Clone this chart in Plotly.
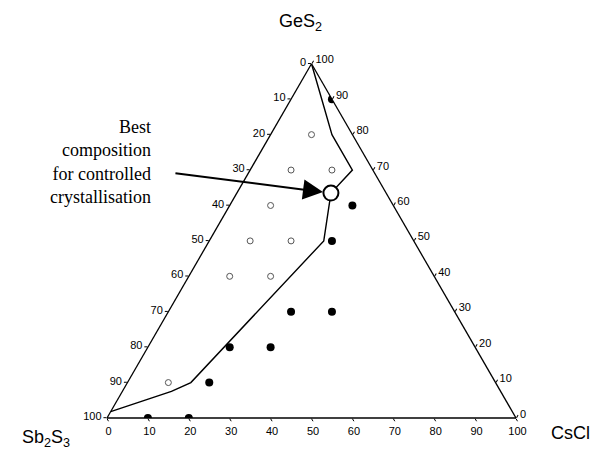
import plotly.graph_objects as go

# Compositions in mol %: GeS2 (top), Sb2S3 (bottom left), CsCl (bottom right)

# Boundary of the glass-forming region
boundary_ges2 = [100, 88, 80, 70, 63.5, 50, 10, 7.5, 1.8]
boundary_sb2s3 = [0, 3, 5, 5, 13.5, 22, 74.5, 80.5, 98.2]
boundary_cscl = [0, 9, 15, 25, 23, 28, 15.5, 12, 0]

# Glassy samples (open symbols)
glass_ges2 = [80, 70, 70, 60, 50, 50, 40, 40, 10]
glass_sb2s3 = [10, 20, 10, 30, 40, 30, 50, 40, 80]
glass_cscl = [10, 10, 20, 10, 10, 20, 10, 20, 10]

# Crystallised samples (filled symbols)
cryst_ges2 = [90, 60, 50, 30, 30, 20, 20, 10, 0, 0]
cryst_sb2s3 = [0, 10, 20, 30, 40, 60, 50, 70, 90, 80]
cryst_cscl = [10, 30, 30, 40, 30, 20, 30, 20, 10, 20]

# Composition chosen for controlled crystallisation
best_ges2 = [63.5]
best_sb2s3 = [13.5]
best_cscl = [23]

tick_vals = [0, 10, 20, 30, 40, 50, 60, 70, 80, 90, 100]
tick_text = [str(100 - v) for v in tick_vals]

W, H = 598, 449
# ternary domain (paper fractions)
DX = [107 / W, 516 / W]
DY = [31 / H, (31 + 409 * 3 ** 0.5 / 2) / H]


def to_paper(a, b, c):
    s = a + b + c
    a, c = a / s, c / s
    return DX[0] + (DX[1] - DX[0]) * (c + a / 2), DY[0] + (DY[1] - DY[0]) * a


fig = go.Figure()
fig.add_trace(go.Scatterternary(
    a=boundary_ges2, b=boundary_sb2s3, c=boundary_cscl, mode="lines",
    line=dict(color="black", width=1.4), hoverinfo="skip"))
fig.add_trace(go.Scatterternary(
    a=glass_ges2, b=glass_sb2s3, c=glass_cscl, mode="markers",
    marker=dict(symbol="circle-open", size=6, color="#555",
                line=dict(width=1, color="#555"))))
fig.add_trace(go.Scatterternary(
    a=cryst_ges2, b=cryst_sb2s3, c=cryst_cscl, mode="markers",
    marker=dict(symbol="circle", size=8, color="black")))
fig.add_trace(go.Scatterternary(
    a=best_ges2, b=best_sb2s3, c=best_cscl, mode="markers",
    marker=dict(symbol="circle", size=15, color="white",
                line=dict(width=2, color="black"))))

axis_common = dict(
    tickmode="array", tickvals=tick_vals, ticktext=tick_text,
    ticks="outside", ticklen=3, tickcolor="black", tickwidth=1,
    showgrid=False, linecolor="black", linewidth=1.3, color="black",
    tickfont=dict(family="Arial, Liberation Sans", size=11, color="black"),
    title=dict(text=""), min=0,
)

fig.update_layout(
    width=W, height=H,
    margin=dict(l=0, r=0, t=0, b=0),
    paper_bgcolor="white",
    showlegend=False,
    ternary=dict(
        sum=100,
        domain=dict(x=DX, y=DY),
        bgcolor="white",
        aaxis=axis_common,
        baxis=axis_common,
        caxis=axis_common,
    ),
)

label_font = dict(family="Arial, Liberation Sans", size=18, color="black")
for txt, px, py in [("GeS<sub>2</sub>", 300, 22),
                    ("Sb<sub>2</sub>S<sub>3</sub>", 46, 438),
                    ("CsCl", 570, 433)]:
    fig.add_annotation(text=txt, x=px / W, y=1 - py / H,
                       xref="paper", yref="paper", xanchor="center",
                       yanchor="middle", showarrow=False, font=label_font)

fig.add_annotation(
    text="Best<br>composition<br>for controlled<br>crystallisation",
    x=153 / W, y=1 - 162 / H, xref="paper", yref="paper",
    xanchor="right", yanchor="middle", align="right", showarrow=False,
    font=dict(family="Liberation Serif, Times New Roman", size=18, color="black"))

bx, by = to_paper(best_ges2[0], best_sb2s3[0], best_cscl[0])
fig.add_annotation(
    x=bx, y=by, xref="paper", yref="paper", text="",
    showarrow=True, arrowhead=2, arrowsize=2, arrowwidth=2, arrowcolor="black",
    standoff=8, ax=-157, ay=-20)

fig.write_html("out.html")
